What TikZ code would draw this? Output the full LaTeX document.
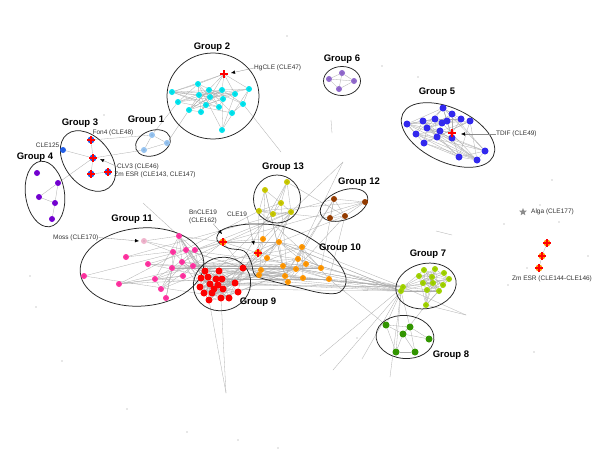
\documentclass[tikz,border=0pt]{standalone}
\usepackage{fontspec}
\setmainfont{Liberation Sans}
\usetikzlibrary{arrows.meta,backgrounds,shapes.misc,shapes.geometric}

\definecolor{paleblue}{RGB}{150,195,240}
\definecolor{cyangrp}{RGB}{0,228,238}
\definecolor{cleblue}{RGB}{35,95,232}
\definecolor{violetgrp}{RGB}{115,0,210}
\definecolor{bluegrp}{RGB}{50,40,240}
\definecolor{lilacgrp}{RGB}{145,105,205}
\definecolor{limegrp}{RGB}{160,210,0}
\definecolor{greengrp}{RGB}{50,150,0}
\definecolor{orangegrp}{RGB}{255,150,0}
\definecolor{pinkgrp}{RGB}{255,50,160}
\definecolor{browngrp}{RGB}{150,60,0}
\definecolor{olivegrp}{RGB}{200,200,0}
\definecolor{mosspink}{RGB}{240,180,205}

\begin{document}
\begin{tikzpicture}[x=1pt,y=-1pt,
  every node/.append style={inner sep=0pt},
  dot/.style={circle,fill=#1,minimum size=6pt,
    path picture={\fill[black!75] (path picture bounding box.center) circle (0.45pt);}},
  bigdot/.style={dot=#1,minimum size=7pt},
  redplus/.style={cross out,draw=red,line width=1.05pt,minimum size=4.3pt,rotate=45},
  edge/.style={black!32,line width=0.3pt},
  grp/.style={black!85,line width=0.75pt},
  grouplabel/.style={font=\bfseries\fontsize{9.5}{11}\selectfont},
  cle/.style={font=\fontsize{6.5}{8}\selectfont,text=black!80},
  stray/.style={circle,fill=black!40,minimum size=1.2pt},
  pointer/.style={black!45,line width=0.3pt,-{Latex[length=4pt,width=3.5pt,color=black]}}]

\begin{scope}[on background layer]
\fill[white] (0,0) rectangle (600,450);
\end{scope}
\useasboundingbox (0,0) rectangle (600,450);

% group outlines
\foreach \cx/\cy/\rx/\ry/\r in {153/143/18/12.5/20, 213/96/46/43/0, 88/161/34/23/-52,
    45/194/33/19.5/-82, 448/135/50/27/-25, 342/81/18.5/14.5/0, 426/286/30.5/22.5/12,
    405/337/29/21.5/-5, 222/284/29/26.5/20, 142/267/62/39/5, 344/205/25/14.5/22,
    277/199/23.5/24/0}
  \draw[grp, rotate around={\r:(\cx,\cy)}] (\cx,\cy) ellipse [x radius=\rx, y radius=\ry];
\draw[grp] plot[smooth cycle, tension=0.6] coordinates {(217,240) (222,230) (240,225)
  (262,224) (285,227) (310,238) (333,256) (346,278) (340,292) (322,293) (296,287)
  (268,280) (255,275) (251,262) (244,251) (228,248)};

% group labels
\foreach \gn/\gx/\gy in {1/146/120, 2/212/47, 3/80/123, 4/35/157, 5/437/92, 6/342/59,
    7/428/254, 8/451/355, 9/258/302, 10/340/248, 11/132/219, 12/359/182, 13/283/167}
  \node[grouplabel] (lab\gn) at (\gx,\gy) {Group \gn};

% nodes
\foreach \p [count=\i] in {(152,135),(167,143),(144,150)}
  \node[dot=paleblue] (g1-\i) at \p {};
\foreach \p [count=\i] in {(198,84),(209,90),(222,90),(235,94),(249,89),(172,92),(199,95),
    (210,97),(223,99),(243,104),(178,102),(206,105),(219,107),(232,113),(189,110),
    (201,112),(222,130)}
  \node[dot=cyangrp] (g2-\i) at \p {};
\node[dot=red,minimum size=3pt] (g2-18) at (224,74) {};
\node[redplus] (hgx) at (g2-18) {};
\node[bigdot=cleblue] (fon4) at (91,140) {};
\node[dot=cleblue] (cle125) at (63,150) {};
\node[bigdot=cleblue] (clv3) at (93,158) {};
\node[bigdot=cleblue] (zmA) at (91,174) {};
\node[bigdot=cleblue] (zmB) at (108,172) {};
\foreach \n in {fon4,clv3,zmA,zmB}
  \node[redplus] (\n x) at (\n) {};
\foreach \p [count=\i] in {(37,173),(58,183),(39,197),(55,203),(52,219)}
  \node[dot=violetgrp] (g4-\i) at \p {};
\foreach \p [count=\i] in {(443,108),(452,114),(407,124),(423,121),(435,119),(447,121),
    (461,119),(470,121),(427,128),(442,123),(440,131),(416,134),(437,137),(452,138),
    (424,143),(485,151),(459,157),(477,160)}
  \node[bigdot=bluegrp] (g5-\i) at \p {};
\node[dot=red,minimum size=4pt] (g5-19) at (452,133) {};
\node[redplus] (tdx) at (g5-19) {};
\foreach \p [count=\i] in {(342,73),(329,79),(354,81),(339,89)}
  \node[dot=lilacgrp] (g6-\i) at \p {};
\foreach \p [count=\i] in {(403,287),(401,291),(424,270),(435,269),(444,273),(419,276),
    (432,277),(449,279),(443,285),(423,283),(433,283),(427,290),(439,291),(426,305)}
  \node[dot=limegrp] (g7-\i) at \p {};
\foreach \p [count=\i] in {(386,325),(410,327),(403,334),(429,339),(396,352),(415,352)}
  \node[bigdot=greengrp] (g8-\i) at \p {};
\foreach \p [count=\i] in {(205,271),(219,271),(243,268),(201,278),(208,277),(216,279),
    (222,279),(235,283),(210,284),(218,285),(200,287),(214,289),(223,289),(204,293),
    (212,293),(238,292),(209,300),(221,298),(229,298)}
  \node[bigdot=red] (g9-\i) at \p {};
\foreach \p [count=\i] in {(263,239),(279,242),(302,247),(267,258),(283,266),(298,259),
    (306,264),(321,268),(261,270),(259,275),(285,276),(296,269),(303,278),(288,282),
    (329,279)}
  \node[dot=orangegrp] (g10-\i) at \p {};
\node[bigdot=orangegrp] (bn) at (223,242) {};
\node[bigdot=orangegrp] (c19) at (258,253) {};
\node[redplus] (bnx) at (bn) {};
\node[redplus] (c19x) at (c19) {};
\foreach \p [count=\i] in {(179,236),(186,250),(195,250),(173,252),(182,262),(193,266),
    (148,264),(126,257),(172,268),(183,276),(84,276),(119,284),(155,279),(161,289),
    (166,298)}
  \node[dot=pinkgrp] (g11-\i) at \p {};
\node[dot=mosspink] (moss) at (144,241) {};
\foreach \p [count=\i] in {(334,199),(365,202),(330,218),(345,216)}
  \node[dot=browngrp] (g12-\i) at \p {};
\foreach \p [count=\i] in {(287,182),(265,190),(281,203),(259,211),(273,214),(291,212)}
  \node[dot=olivegrp] (g13-\i) at \p {};
\foreach \p [count=\i] in {(547,243),(542,256),(539,268)}{
  \node[bigdot=orangegrp] (zr\i) at \p {};
  \node[redplus] (zr\i x) at (zr\i) {};}
\node[star,star points=5,star point ratio=2.3,fill=black!45,minimum size=8pt] (alga) at (523,212) {};
\foreach \p [count=\i] in {(104,115),(287,36),(382,66),(418,77),(552,180),(540,205),
    (504,224),(559,222),(588,256),(527,268),(508,285),(534,352),(30,276),(36,307),
    (62,361),(127,409),(187,432),(238,440),(278,448),(357,338)}
  \node[stray] (s\i) at \p {};

% texts
\node[cle,anchor=west] (hgl) at (254,68) {HgCLE (CLE47)};
\node[cle] (fonl) at (113,133) {Fon4 (CLE48)};
\node[cle,anchor=east] (cle125l) at (59.5,145) {CLE125};
\node[cle] (clvl) at (138,166.5) {CLV3 (CLE46)};
\node[cle] (zml) at (155,175) {Zm ESR (CLE143, CLE147)};
\node[cle,anchor=west] (tdl) at (496,134) {TDIF (CLE49)};
\node[cle,anchor=east] (mossl) at (98.5,237.5) {Moss (CLE170)};
\node[cle,align=center] (bnl) at (203,216.5) {BnCLE19\\(CLE162)};
\node[cle] (c19l) at (237,214) {CLE19};
\node[cle,anchor=west] (algal) at (531,212) {Alga (CLE177)};
\node[cle] (zrl) at (552,279) {Zm ESR (CLE144-CLE146)};

\coordinate (hga) at (231,73);
\coordinate (tda) at (461,134);
\coordinate (mossa) at (139,241);
\coordinate (clva) at (100,159);
\coordinate (bna) at (222,234);
\coordinate (c19a) at (254,245);
\draw[pointer] (hgl.west) -- (hga);
\draw[pointer] (tdl.west) -- (tda);
\draw[pointer] (mossl.east) -- (mossa);
\draw[pointer] (clvl.west) -- (clva);
\draw[pointer] ([xshift=-4pt]bnl.south east) -- (bna);
\draw[pointer] (c19l.south east) -- (c19a);

% loose ends
\coordinate (e1) at (281,152);
\coordinate (e2) at (143,203);
\coordinate (e3) at (226,393);
\coordinate (e4) at (343,162);
\coordinate (e5) at (320,356);
\coordinate (e6) at (333,370);
\coordinate (e7) at (362,359);
\coordinate (e8) at (390,377);
\coordinate (e9) at (466,315);
\coordinate (t1) at (331,120);
\coordinate (t2) at (332,133);
\coordinate (t3) at (436,231);
\coordinate (t4) at (452,235);

\begin{scope}[on background layer]
\pgfmathsetseed{17}
\foreach \g/\nn/\q in {2/18/0.33, 5/19/0.4, 7/14/0.6, 9/19/0.5, 10/15/0.3, 11/15/0.2}{
  \foreach \i in {1,...,\nn}{
    \foreach \j in {1,...,\nn}{
      \pgfmathtruncatemacro\ok{(\i<\j)&&(rnd<\q)}
      \ifnum\ok=1 \draw[edge] (g\g-\i) -- (g\g-\j);\fi
    }}}
\foreach \ga/\na/\gb/\nb/\cnt in {11/15/9/19/16, 11/15/10/15/12, 9/19/10/15/18,
    10/15/13/6/7, 11/15/13/6/3, 10/15/12/4/6, 13/6/12/4/3, 9/19/13/6/3, 11/15/12/4/2}
  \foreach \t in {1,...,\cnt}{
    \pgfmathtruncatemacro\ia{random(1,\na)}
    \pgfmathtruncatemacro\ib{random(1,\nb)}
    \draw[edge] (g\ga-\ia) -- (g\gb-\ib);}
\foreach \gx/\cnt in {10/14, 9/5, 11/2}
  \foreach \t in {1,...,\cnt}{
    \pgfmathtruncatemacro\ia{random(1,15)}
    \pgfmathtruncatemacro\ib{random(1,2)}
    \draw[edge] (g\gx-\ia) -- (g7-\ib);}
\foreach \ia/\ib in {1/2,2/3,1/3}
  \draw[edge] (g1-\ia) -- (g1-\ib);
\foreach \ia/\ib in {2/3,3/4,2/4,4/5}
  \draw[edge] (g4-\ia) -- (g4-\ib);
\foreach \ia/\ib in {1/2,1/3,1/4,2/3,2/4,3/4}
  \draw[edge] (g6-\ia) -- (g6-\ib);
\foreach \ia/\ib in {1/2,1/3,2/3,3/4,2/4,1/5,3/5,5/6,2/6,3/6}
  \draw[edge] (g8-\ia) -- (g8-\ib);
\foreach \ia/\ib in {1/2,1/3,1/4,2/4,3/4,2/3}
  \draw[edge] (g12-\ia) -- (g12-\ib);
\foreach \ia/\ib in {1/3,1/6,2/3,2/4,3/4,3/5,3/6,4/5,5/6,1/5}
  \draw[edge] (g13-\ia) -- (g13-\ib);
\foreach \n/\m in {fon4/clv3, cle125/clv3, clv3/zmA, zmA/zmB, clv3/g4-2, clv3/g1-3,
    fon4/g1-1, g1-1/g2-11, g1-2/g2-15, g2-10/e1, g11-1/e2, g9-17/e3, g9-18/e3,
    g10-1/e4, g10-3/e4, g7-1/e5, g7-2/e6, g7-1/e7, g7-2/e8, g7-1/e9, g7-14/e9,
    g10-15/g8-1, g7-1/g8-1, g7-2/g8-2, g7-14/g8-3, g7-2/g8-5,
    bn/g11-1, bn/g11-3, bn/g11-6, bn/g10-1, bn/g10-2, bn/g9-3, bn/c19,
    c19/g10-1, c19/g10-4, c19/g10-6, c19/g13-4, c19/g9-3,
    moss/g11-1, moss/g11-4, moss/g11-2, zr1/zr2, zr2/zr3, t1/t2, t3/t4}
  \draw[edge] (\n) -- (\m);
\end{scope}
\end{tikzpicture}
\end{document}
